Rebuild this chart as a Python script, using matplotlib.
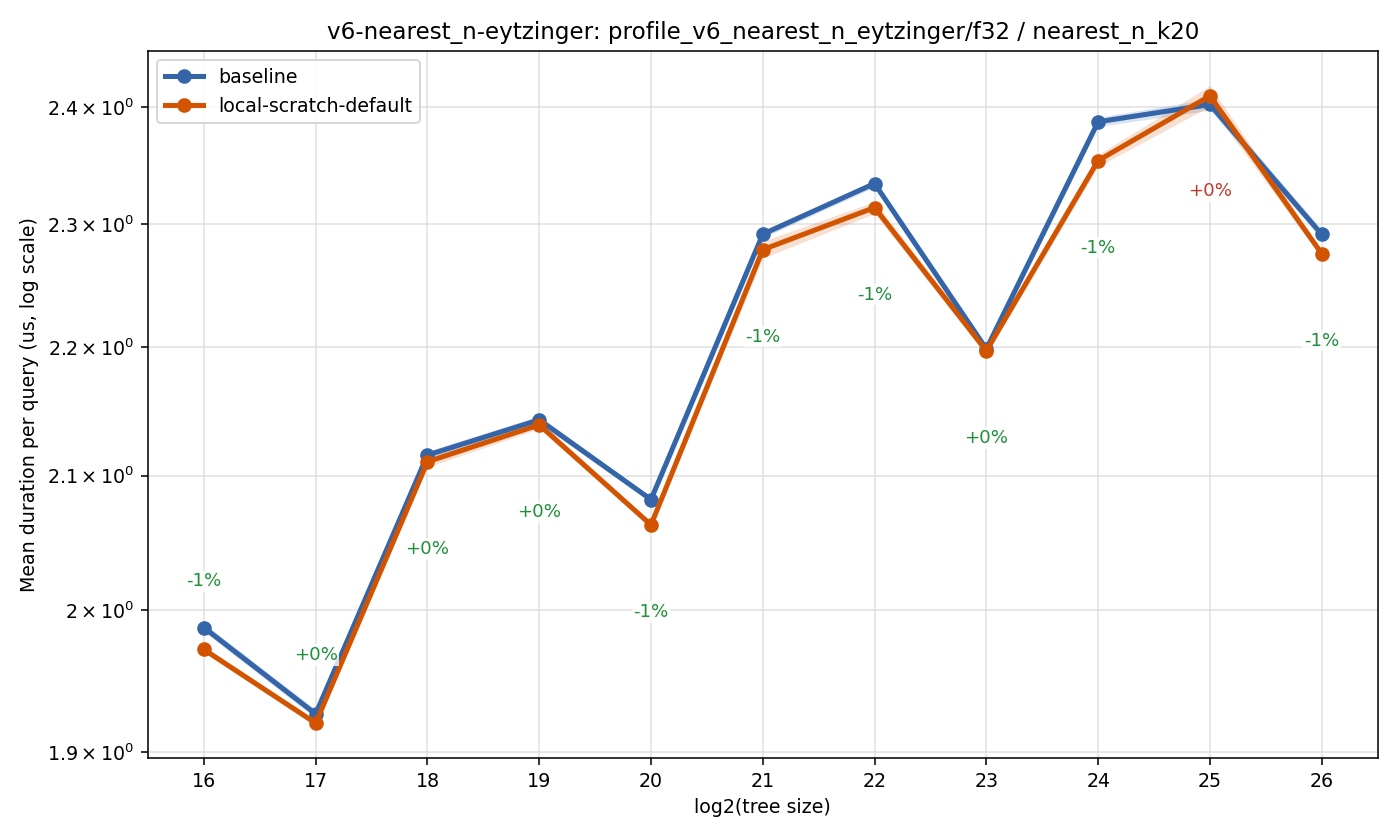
import matplotlib
matplotlib.use("Agg")
import matplotlib.pyplot as plt
from matplotlib.ticker import NullLocator, NullFormatter
import numpy as np

# ---- data ----
tree_log2 = [16, 17, 18, 19, 20, 21, 22, 23, 24, 25, 26]
baseline = [1.9875, 1.9263, 2.1156, 2.1428, 2.0818, 2.2918, 2.3342, 2.1985, 2.3870, 2.4020, 2.2916]
baseline_ci = [0.003, 0.003, 0.003, 0.003, 0.002, 0.003, 0.003, 0.003, 0.004, 0.005, 0.004]
local_scratch = [1.9718, 1.9199, 2.1105, 2.1389, 2.0628, 2.2790, 2.3140, 2.1970, 2.3537, 2.4095, 2.2757]
local_scratch_ci = [0.002, 0.002, 0.004, 0.003, 0.002, 0.007, 0.005, 0.003, 0.005, 0.009, 0.003]
series_labels = ["baseline", "local-scratch-default"]
y_ticks = [1.9, 2.0, 2.1, 2.2, 2.3, 2.4]

title = "v6-nearest_n-eytzinger: profile_v6_nearest_n_eytzinger/f32 / nearest_n_k20"

BLUE = "#3465a9"
ORANGE = "#d35400"
GREEN = "#1e8f3a"
RED = "#c0392b"

plt.rcParams["font.size"] = 9.75

fig = plt.figure(figsize=(10, 6), dpi=140)
ax = fig.add_axes([0.1057, 0.0976, 0.984 - 0.1057, 0.9393 - 0.0976])

x = np.array(tree_log2)
for vals, ci, col, lab in [(baseline, baseline_ci, BLUE, series_labels[0]),
                           (local_scratch, local_scratch_ci, ORANGE, series_labels[1])]:
    v = np.array(vals)
    c = np.array(ci)
    ax.fill_between(x, v - c, v + c, color=col, alpha=0.18, linewidth=0)
    ax.plot(x, v, color=col, linewidth=2.6, marker="o", markersize=6.5, label=lab, zorder=3)

ax.set_yscale("log")
ax.set_xlim(15.5, 26.5)
ax.set_ylim(1.8958, 2.449)
ax.set_yticks(y_ticks)
ax.yaxis.set_minor_locator(NullLocator())
ax.yaxis.set_minor_formatter(NullFormatter())
ax.set_xticks(tree_log2)

# percent labels
for xi, b, l in zip(tree_log2, baseline, local_scratch):
    p = (l / b - 1.0) * 100.0
    txt = f"{int(round(p)):+d}%"
    col = GREEN if p < 0 else RED
    lo = min(b, l)
    if lo < 2.0:
        off = 68 / 140 * 72
    else:
        off = -87 / 140 * 72
    ax.annotate(txt, xy=(xi, lo), xytext=(0, off), textcoords="offset points",
                ha="center", va="center", fontsize=9.4, color=col, zorder=4,
                bbox=dict(boxstyle="square,pad=0.1", facecolor="white", edgecolor="none", alpha=0.8))

ax.grid(True, color="#dddddd", alpha=0.7, linewidth=1)
ax.set_axisbelow(True)
ax.set_xlabel("log2(tree size)")
ax.set_ylabel("Mean duration per query (us, log scale)")
ax.set_title(title, fontsize=11.8)
ax.legend(loc="upper left")

fig.savefig("out.png", dpi=140)
